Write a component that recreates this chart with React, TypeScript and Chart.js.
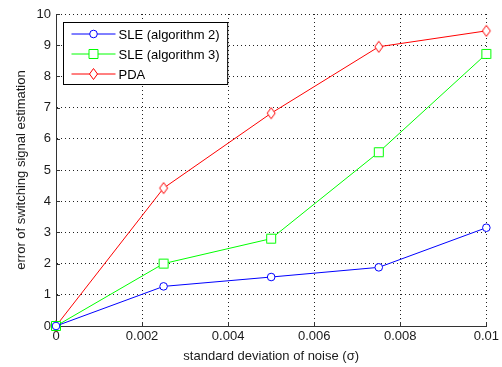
import React, { useEffect, useRef } from 'react';
import { Chart, registerables } from 'chart.js';

Chart.register(...registerables);

const sigma = [0, 0.0025, 0.005, 0.0075, 0.01];
const sleAlg2 = [0, 1.27, 1.57, 1.88, 3.15];
const sleAlg3 = [0, 2.0, 2.8, 5.57, 8.72];
const pda = [0, 4.42, 6.82, 8.95, 9.46];
const seriesLabels = ['SLE (algorithm 2)', 'SLE (algorithm 3)', 'PDA'];
const seriesColors = ['#0000ff', '#00ff00', '#ff0000'];
const seriesMarkers = ['circle', 'square', 'diamond'];
const xTickLabels = ['0', '0.002', '0.004', '0.006', '0.008', '0.01'];
const yTickLabels = ['0', '1', '2', '3', '4', '5', '6', '7', '8', '9', '10'];
const xTitle = 'standard deviation of noise (\u03c3)';
const yTitle = 'error of switching signal estimation';

const FONT = '"Liberation Sans", Arial, Helvetica, sans-serif';
const AXIS_COLOR = '#333333';
const TEXT_COLOR = '#1a1a1a';

function drawMarker(ctx: CanvasRenderingContext2D, kind: string, x: number, y: number, color: string) {
  ctx.save();
  ctx.strokeStyle = color;
  ctx.fillStyle = '#ffffff';
  ctx.lineWidth = 1;
  ctx.beginPath();
  if (kind === 'circle') {
    ctx.arc(x, y, 3.8, 0, Math.PI * 2);
  } else if (kind === 'square') {
    ctx.rect(x - 4.5, y - 4.5, 9, 9);
  } else {
    ctx.moveTo(x, y - 5.5);
    ctx.lineTo(x + 4, y);
    ctx.lineTo(x, y + 5.5);
    ctx.lineTo(x - 4, y);
    ctx.closePath();
  }
  ctx.fill();
  ctx.stroke();
  ctx.restore();
}

function makeMarkerCanvas(kind: string, color: string): HTMLCanvasElement {
  const c = document.createElement('canvas');
  c.width = 12;
  c.height = 14;
  const ctx = c.getContext('2d')!;
  drawMarker(ctx, kind, 6, 7, color);
  return c;
}

const inwardTicks = {
  id: 'inwardTicks',
  beforeDatasetsDraw(chart: any) {
    const { ctx, chartArea, scales } = chart;
    ctx.save();
    ctx.strokeStyle = AXIS_COLOR;
    ctx.lineWidth = 1;
    ctx.beginPath();
    const xs = scales.x;
    xs.ticks.forEach((_t: any, i: number) => {
      const px = Math.round(xs.getPixelForTick(i)) + 0.5;
      ctx.moveTo(px, chartArea.bottom);
      ctx.lineTo(px, chartArea.bottom - 4);
    });
    const ys = scales.y;
    ys.ticks.forEach((_t: any, i: number) => {
      const py = Math.round(ys.getPixelForTick(i)) + 0.5;
      ctx.moveTo(chartArea.left, py);
      ctx.lineTo(chartArea.left + 4, py);
    });
    ctx.stroke();
    ctx.restore();
  },
};

const legendBox = {
  id: 'legendBox',
  afterDatasetsDraw(chart: any) {
    const { ctx, chartArea } = chart;
    const ds = chart.data.datasets;
    ctx.save();
    ctx.font = `13px ${FONT}`;
    const textW = Math.max(...ds.map((d: any) => ctx.measureText(d.label).width));
    const x0 = Math.round(chartArea.left + 7) + 0.5;
    const y0 = Math.round(chartArea.top + 8) + 0.5;
    const rowH = 20;
    const lineLen = 44;
    const w = 8 + lineLen + 3 + textW + 8;
    const h = rowH * (ds.length - 1) + 22;
    ctx.fillStyle = '#ffffff';
    ctx.fillRect(x0, y0, w, h);
    ctx.strokeStyle = '#000000';
    ctx.lineWidth = 1;
    ctx.strokeRect(x0, y0, w, h);
    ds.forEach((d: any, i: number) => {
      const cy = Math.round(y0 + 11 + i * rowH);
      const lx = x0 + 8;
      ctx.strokeStyle = seriesColors[i];
      ctx.beginPath();
      ctx.moveTo(lx, cy);
      ctx.lineTo(lx + lineLen, cy);
      ctx.stroke();
      drawMarker(ctx, seriesMarkers[i], lx + lineLen / 2, cy, seriesColors[i]);
      ctx.fillStyle = '#000000';
      ctx.textBaseline = 'middle';
      ctx.textAlign = 'left';
      ctx.fillText(d.label, lx + lineLen + 3, cy + 1);
    });
    ctx.restore();
  },
};

export default function App() {
  const ref = useRef<HTMLCanvasElement | null>(null);

  useEffect(() => {
    document.body.style.margin = '0';
    const canvas = ref.current!;
    const seriesValues = [sleAlg2, sleAlg3, pda];
    const datasets = seriesValues.map((vals, i) => {
      const pointStyle: any =
        seriesMarkers[i] === 'circle' ? 'circle' : makeMarkerCanvas(seriesMarkers[i], seriesColors[i]);
      return {
        label: seriesLabels[i],
        data: sigma.map((s, j) => ({ x: s, y: vals[j] })),
        borderColor: seriesColors[i],
        backgroundColor: seriesColors[i],
        borderWidth: 1,
        pointStyle,
        pointRadius: seriesMarkers[i] === 'circle' ? 3.8 : 6,
        pointBorderColor: seriesColors[i],
        pointBackgroundColor: '#ffffff',
        pointBorderWidth: 1,
        tension: 0,
        fill: false,
        clip: false as any,
      };
    });

    const chart = new Chart(canvas, {
      type: 'line',
      data: { datasets },
      options: {
        animation: false,
        responsive: false,
        devicePixelRatio: 1,
        layout: { padding: { top: 14, right: 14, left: 0, bottom: 0 } },
        plugins: {
          legend: { display: false },
          tooltip: { enabled: false },
        },
        scales: {
          x: {
            type: 'linear',
            min: 0,
            max: 0.01,
            ticks: {
              stepSize: 0.002,
              color: TEXT_COLOR,
              font: { family: FONT, size: 13 },
              padding: 3,
              maxRotation: 0,
              autoSkip: false,
              callback: (_v: any, i: number) => xTickLabels[i] ?? '',
            },
            grid: { color: '#222222', lineWidth: 1, drawTicks: false },
            border: { color: AXIS_COLOR, width: 1, dash: [1, 3] },
            title: {
              display: true,
              text: xTitle,
              color: TEXT_COLOR,
              font: { family: FONT, size: 13 },
              padding: { top: 0, bottom: 3 },
            },
            afterFit: (s: any) => {
              s.height = 41;
            },
          },
          y: {
            type: 'linear',
            min: 0,
            max: 10,
            ticks: {
              stepSize: 1,
              color: TEXT_COLOR,
              font: { family: FONT, size: 13 },
              padding: 5,
              autoSkip: false,
              callback: (v: any) => yTickLabels[Math.round(Number(v))] ?? '',
            },
            grid: { color: '#222222', lineWidth: 1, drawTicks: false },
            border: { color: AXIS_COLOR, width: 1, dash: [1, 3] },
            title: {
              display: true,
              text: yTitle,
              color: TEXT_COLOR,
              font: { family: FONT, size: 13 },
              padding: { top: 14, bottom: 0 },
            },
            afterFit: (s: any) => {
              s.width = 56;
            },
          },
        },
      },
      plugins: [inwardTicks, legendBox],
    });
    return () => chart.destroy();
  }, []);

  return (
    <div style={{ position: 'absolute', left: 0, top: 0, width: 502, height: 367, background: '#ffffff' }}>
      <canvas ref={ref} width={502} height={367} style={{ display: 'block' }} />
    </div>
  );
}
